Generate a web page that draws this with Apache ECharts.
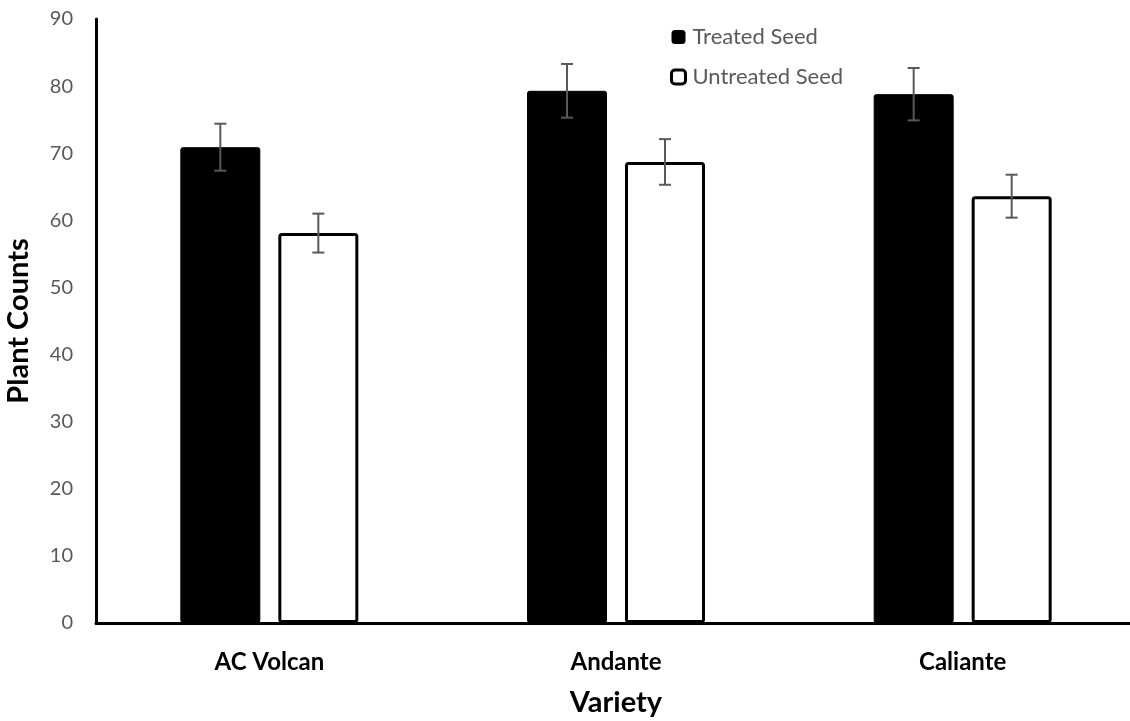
<!DOCTYPE html>
<html>
<head>
<meta charset="utf-8">
<script src="https://cdn.jsdelivr.net/npm/echarts@6/dist/echarts.min.js"></script>
<style>
html,body{margin:0;padding:0;background:#fff;}
#chart{width:1130px;height:721px;}
</style>
</head>
<body>
<div id="chart"></div>
<script>
const categories = ['AC Volcan', 'Andante', 'Caliante'];
const treatedValues = [70.9, 79.3, 78.8];
const treatedErrors = [3.5, 4.0, 3.9];
const untreatedValues = [58.1, 68.7, 63.6];
const untreatedErrors = [2.9, 3.4, 3.2];
const yTicks = [0, 10, 20, 30, 40, 50, 60, 70, 80, 90];

const BAR_W = 80, GAP = 18;
const FONT = 'Lato, "Open Sans", sans-serif';

function errData(vals, errs) {
  return vals.map((v, i) => [i, v - errs[i], v + errs[i]]);
}
function errRender(offset) {
  return function (params, api) {
    const x = api.coord([api.value(0), 0])[0] + offset;
    const yl = api.coord([api.value(0), api.value(1)])[1];
    const yh = api.coord([api.value(0), api.value(2)])[1];
    const cap = 6;
    const st = { stroke: '#595959', lineWidth: 2 };
    return {
      type: 'group',
      children: [
        { type: 'line', shape: { x1: x, y1: yl, x2: x, y2: yh }, style: st },
        { type: 'line', shape: { x1: x - cap, y1: yh, x2: x + cap, y2: yh }, style: st },
        { type: 'line', shape: { x1: x - cap, y1: yl, x2: x + cap, y2: yl }, style: st }
      ]
    };
  };
}

const chart = echarts.init(document.getElementById('chart'));
chart.setOption({
  animation: false,
  backgroundColor: '#fff',
  grid: { left: 96, top: 19, bottom: 98, width: 1040, containLabel: false, outerBoundsMode: 'none' },
  legend: {
    orient: 'vertical',
    left: 665, top: 21,
    itemWidth: 14, itemHeight: 14, itemGap: 18,
    textStyle: { color: '#595959', fontSize: 22, fontFamily: FONT, padding: [0, 0, 0, 2] },
    data: [
      { name: 'Treated Seed', icon: 'roundRect', itemStyle: { color: '#000', borderColor: '#000', borderWidth: 0 } },
      { name: 'Untreated Seed', icon: 'roundRect', itemStyle: { color: '#fff', borderColor: '#000', borderWidth: 3 } }
    ]
  },
  xAxis: {
    type: 'category',
    data: categories,
    axisLine: { lineStyle: { color: '#000', width: 3 } },
    axisTick: { show: false },
    axisLabel: { color: '#000', fontWeight: 'bold', fontSize: 24, fontFamily: FONT, margin: 27 },
    name: 'Variety',
    nameLocation: 'middle',
    nameGap: 65,
    nameTextStyle: { color: '#000', fontWeight: 'bold', fontSize: 29, fontFamily: FONT }
  },
  yAxis: {
    type: 'value',
    min: yTicks[0], max: yTicks[yTicks.length - 1], interval: 10,
    axisLine: { show: true, lineStyle: { color: '#000', width: 3 } },
    axisTick: { show: false },
    splitLine: { show: false },
    axisLabel: { color: '#595959', fontSize: 20, fontFamily: FONT, margin: 23 },
    name: 'Plant Counts',
    nameLocation: 'middle',
    nameGap: 63,
    nameTextStyle: { color: '#000', fontWeight: 'bold', fontSize: 29, fontFamily: FONT }
  },
  series: [
    {
      name: 'Treated Seed', type: 'bar', data: treatedValues,
      barWidth: BAR_W, barGap: (GAP / BAR_W * 100) + '%',
      itemStyle: { color: '#000', borderColor: '#000', borderWidth: 1, borderRadius: 2 }
    },
    {
      name: 'Untreated Seed', type: 'bar', data: untreatedValues,
      barWidth: BAR_W,
      itemStyle: { color: '#fff', borderColor: '#000', borderWidth: 3, borderRadius: 2 }
    },
    {
      type: 'custom', name: 'errT', data: errData(treatedValues, treatedErrors),
      renderItem: errRender(-(BAR_W + GAP) / 2), z: 10, silent: true
    },
    {
      type: 'custom', name: 'errU', data: errData(untreatedValues, untreatedErrors),
      renderItem: errRender((BAR_W + GAP) / 2), z: 10, silent: true
    }
  ]
});
</script>
</body>
</html>
